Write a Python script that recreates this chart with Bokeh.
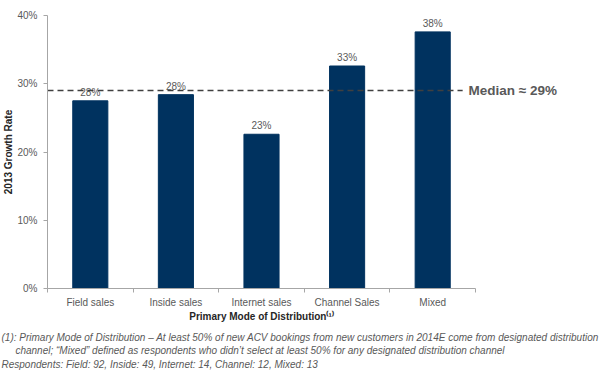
import math
from bokeh.plotting import figure
from bokeh.models import (ColumnDataSource, FixedTicker, Range1d, LinearAxis, Title,
                          PrintfTickFormatter)
from bokeh.core.properties import value
from bokeh.embed import file_html
from bokeh.resources import INLINE

categories = ["Field sales", "Inside sales", "Internet sales", "Channel Sales", "Mixed"]
growth = [27.5, 28.4, 22.6, 32.6, 37.6]
median_value = 29
y_ticks = [0, 10, 20, 30, 40]
y_label = "2013 Growth Rate"
x_label = "Primary Mode of Distribution\u207d\u00b9\u207e"
median_text = "Median \u2248 29%"
footnotes = [
    "(1): Primary  Mode of Distribution \u2013 At least 50% of new ACV  bookings from new customers in 2014E come from designated distribution",
    "\u00a0\u00a0\u00a0\u00a0\u00a0channel; \u201cMixed\u201d defined as respondents who didn\u2019t select at least 50% for any designated distribution channel",
    "Respondents: Field: 92, Inside: 49, Internet: 14, Channel: 12, Mixed: 13",
]

FONT = "Liberation Sans"
GRAY = "#595959"
BAR = "#00325F"

xs = [i + 0.5 for i in range(len(categories))]
labels = ["%d%%" % math.floor(v + 0.5) for v in growth]
src = ColumnDataSource(dict(x=xs, top=growth, lab=labels))

p = figure(width=610, height=376, output_backend="svg", toolbar_location=None,
           x_range=Range1d(0, len(categories)), y_range=Range1d(0, 40),
           min_border_left=44, min_border_right=135, min_border_top=15,
           min_border_bottom=88)
p.outline_line_color = None
p.xgrid.visible = False
p.ygrid.visible = False

p.vbar(x="x", top="top", width=0.41, source=src, fill_color=BAR, line_color=BAR)
p.text(x="x", y="top", text="lab", source=src, text_align="center",
       text_baseline="bottom", y_offset=-3, text_font=value(FONT),
       text_font_size="10px", text_color=GRAY)

# median line (stops a little short of the frame edge, leaving room for its label)
p.segment(x0=[0], y0=[median_value], x1=[len(categories) - 0.15], y1=[median_value],
          line_color="#404040", line_width=1.5, line_dash="6 4")

# y axis
ya = p.yaxis[0]
ya.ticker = FixedTicker(ticks=y_ticks, minor_ticks=[])
ya.formatter = PrintfTickFormatter(format="%d%%")
ya.axis_line_color = "#A6A6A6"
ya.major_tick_line_color = "#A6A6A6"
ya.major_tick_out = 4
ya.major_tick_in = 0
ya.minor_tick_line_color = None
ya.major_label_standoff = 6
ya.major_label_text_font = FONT
ya.major_label_text_font_size = "10px"
ya.major_label_text_color = GRAY
ya.axis_label = y_label
ya.axis_label_standoff = 0
ya.axis_label_text_font = FONT
ya.axis_label_text_font_size = "10px"
ya.axis_label_text_font_style = "bold"
ya.axis_label_text_color = "#262626"

# x axis
xa = p.xaxis[0]
xa.ticker = FixedTicker(ticks=xs, minor_ticks=list(range(len(categories) + 1)))
xa.major_label_overrides = {x: c for x, c in zip(xs, categories)}
xa.axis_line_color = "#A6A6A6"
xa.major_tick_line_color = None
xa.major_tick_out = 0
xa.major_tick_in = 0
xa.minor_tick_line_color = "#A6A6A6"
xa.minor_tick_out = 4
xa.minor_tick_in = 0
xa.major_label_standoff = 4
xa.major_label_text_font = FONT
xa.major_label_text_font_size = "10px"
xa.major_label_text_color = GRAY
xa.axis_label = x_label
xa.axis_label_standoff = 0
xa.axis_label_text_font = FONT
xa.axis_label_text_font_size = "10px"
xa.axis_label_text_font_style = "bold"
xa.axis_label_text_color = "#262626"

# right axis carrying only the median label
ra = LinearAxis(ticker=FixedTicker(ticks=[median_value], minor_ticks=[]),
                major_label_overrides={median_value: median_text})
ra.axis_line_color = None
ra.major_tick_line_color = None
ra.minor_tick_line_color = None
ra.major_tick_out = 0
ra.major_tick_in = 0
ra.major_label_standoff = -7
ra.major_label_text_font = FONT
ra.major_label_text_font_size = "13.5px"
ra.major_label_text_font_style = "bold"
ra.major_label_text_color = GRAY
p.add_layout(ra, "right")

# footnotes (one multi-line title)
p.add_layout(Title(text="\n".join(footnotes), align="left", offset=-46, standoff=9,
                   text_font=FONT, text_font_size="10px", text_line_height=1.25,
                   text_font_style="italic", text_color=GRAY), "below")

open("out.html", "w").write(file_html(p, INLINE))
